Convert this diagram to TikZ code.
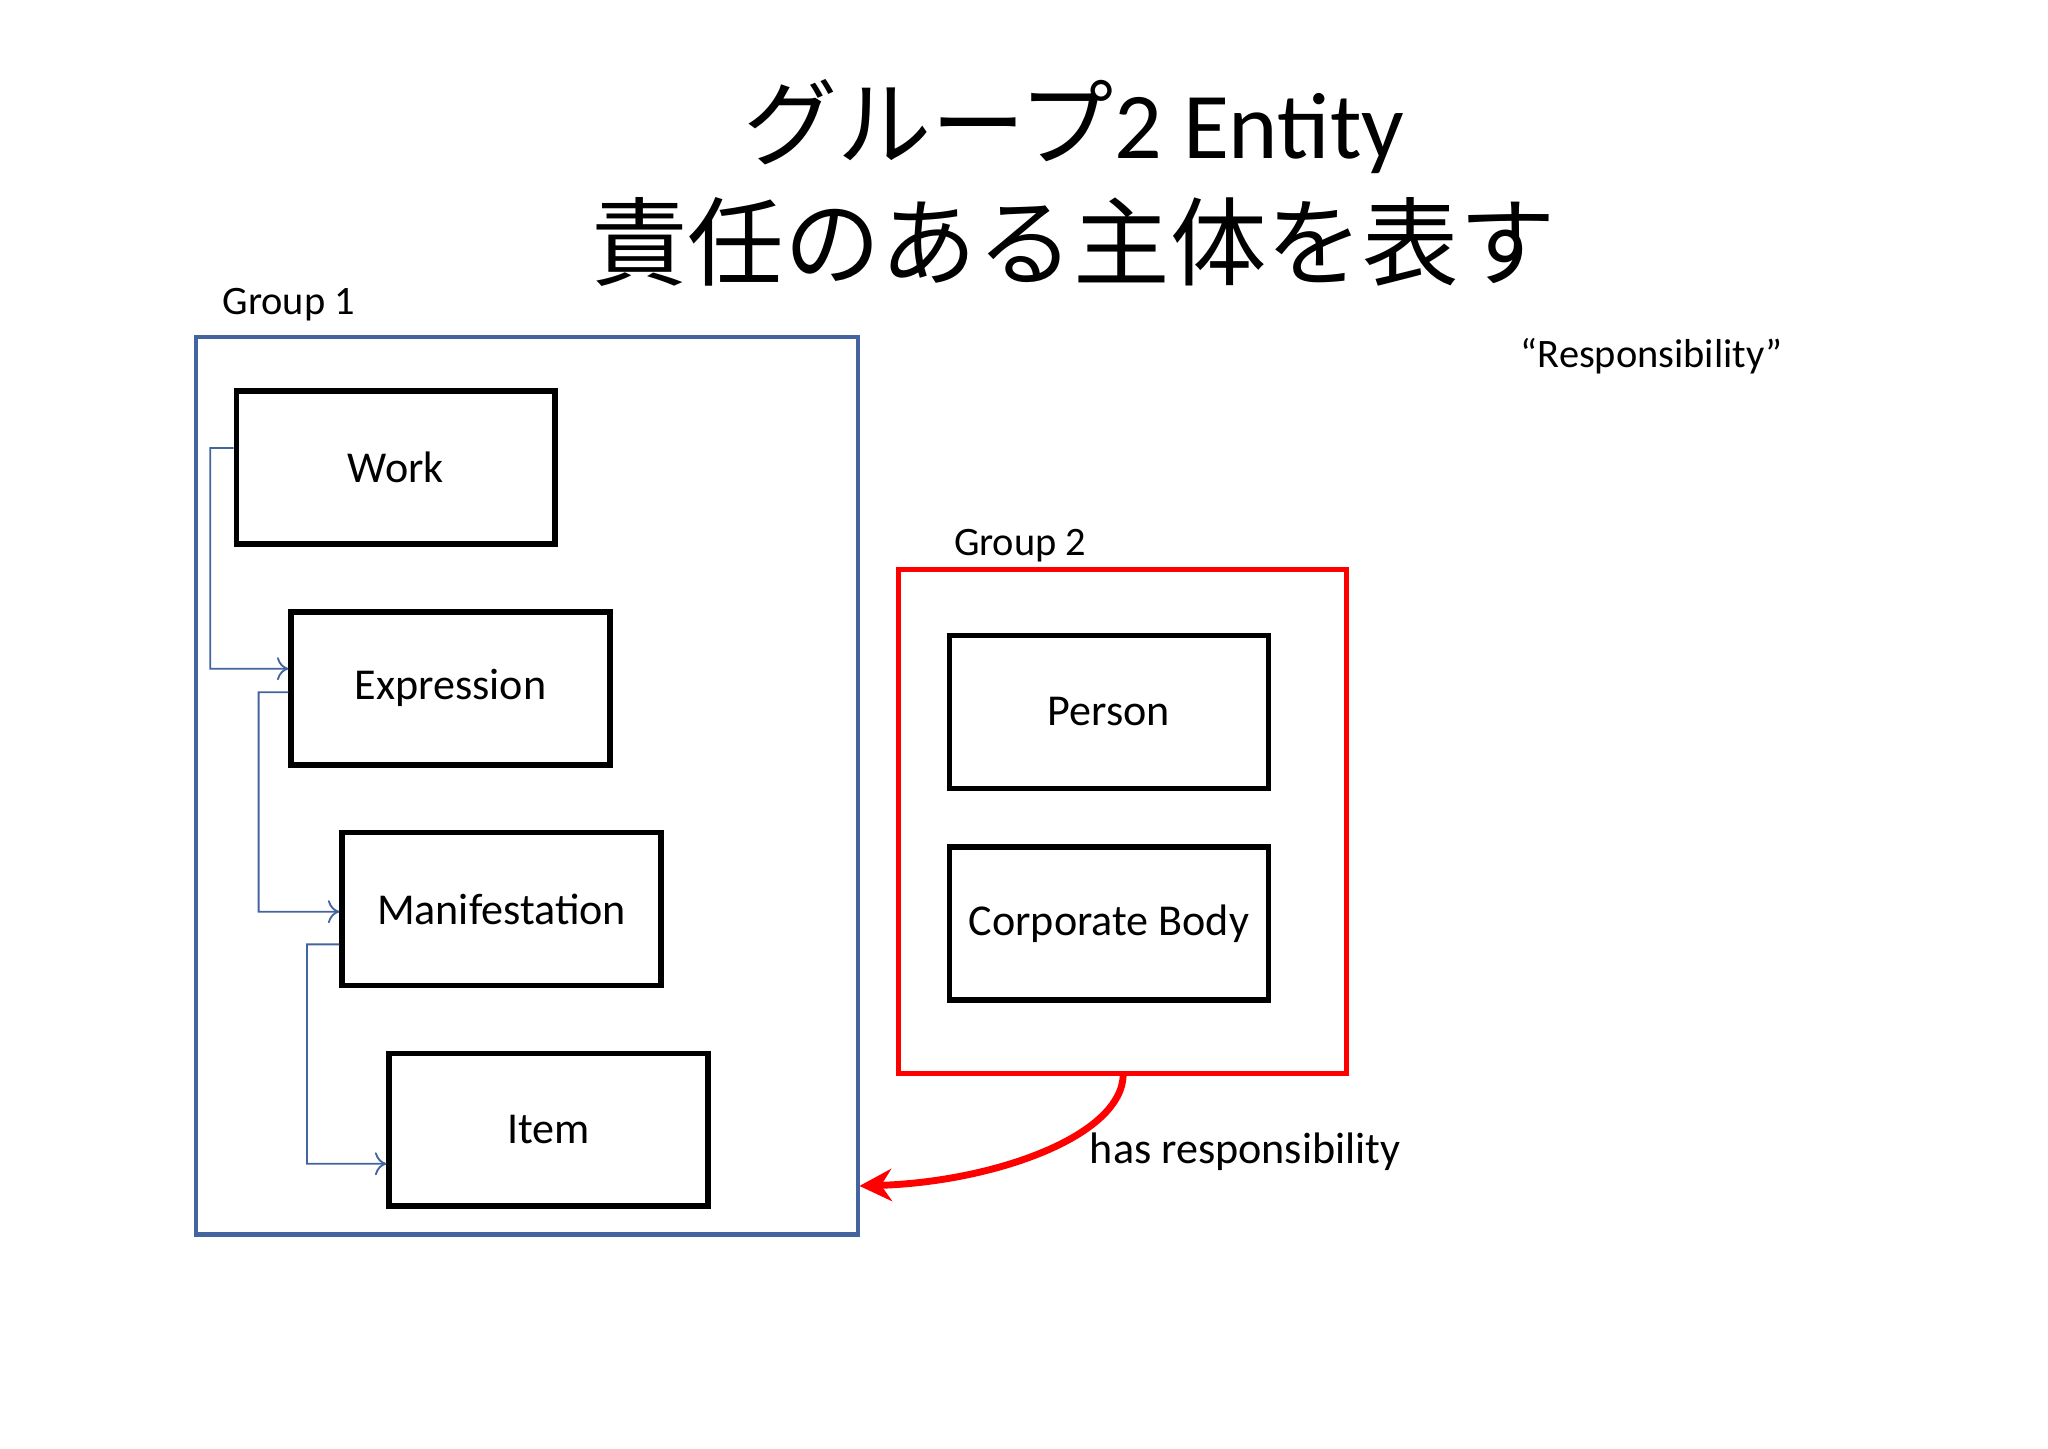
\documentclass[tikz,border=0pt]{standalone}
\usepackage{fontspec}
\setmainfont{Carlito}
\newfontfamily\cjk{Noto Sans CJK JP}
\usetikzlibrary{positioning,arrows.meta}
\definecolor{grpblue}{RGB}{68,100,160}
\tikzset{
  entity/.style={draw,line width=1.2pt,minimum width=2.44cm,minimum height=1.17cm,inner sep=0pt,font=\fontsize{9.6}{12}\selectfont},
  grplabel/.style={anchor=west,font=\fontsize{8.8}{11}\selectfont},
  link/.style={grpblue,line width=0.4pt,-{To[length=2.5pt,width=5pt]}}
}
\begin{document}
\begin{tikzpicture}[x=0.01cm,y=-0.01cm]
\useasboundingbox (0,0) rectangle (1568,1109);
% title
\node[font=\fontsize{20.5}{24}\selectfont] (title1) at (822,97) {{\cjk グループ}2 Entity};
\node[font=\cjk\fontsize{21}{25}\selectfont] (title2) at (822,185) {責任のある主体を表す};
% group 1
\draw[grpblue,line width=1pt] (150,258) rectangle (657,945);
\node[grplabel] (g1) at (158,233) {Group 1};
\node[entity] (work) at (303,358) {Work};
\node[entity] (expr) at (345,527) {Expression};
\node[entity] (mani) at (384,696) {Manifestation};
\node[entity] (item) at (420,865) {Item};
\draw[link] ([yshift=0.15cm]work.west) -| (161,512) -- ([yshift=0.15cm]expr.west);
\draw[link] ([yshift=-0.03cm]expr.west) -| (198,698) -- ([yshift=-0.02cm]mani.west);
\draw[link] ([yshift=-0.27cm]mani.west) -| (235,891) -- ([yshift=-0.26cm]item.west);
% group 2
\draw[red,line width=1pt] (688,436) rectangle (1031,822);
\node[grplabel] (g2) at (718,418) {Group 2};
\node[entity] (person) at (849,545) {Person};
\node[entity] (corp) at (849,707) {Corporate Body};
\node[grplabel] (resp) at (1152,273) {“Responsibility”};
\coordinate (g2bot) at (860,822);
\coordinate (g1side) at (658,908);
\draw[red,line width=1.5pt,-{Stealth[length=7pt,width=7pt]}] (g2bot) .. controls (860,870) and (760,905) .. (g1side);
\node[grplabel,font=\fontsize{9.6}{12}\selectfont] (has) at (822,882) {has responsibility};
\end{tikzpicture}
\end{document}
